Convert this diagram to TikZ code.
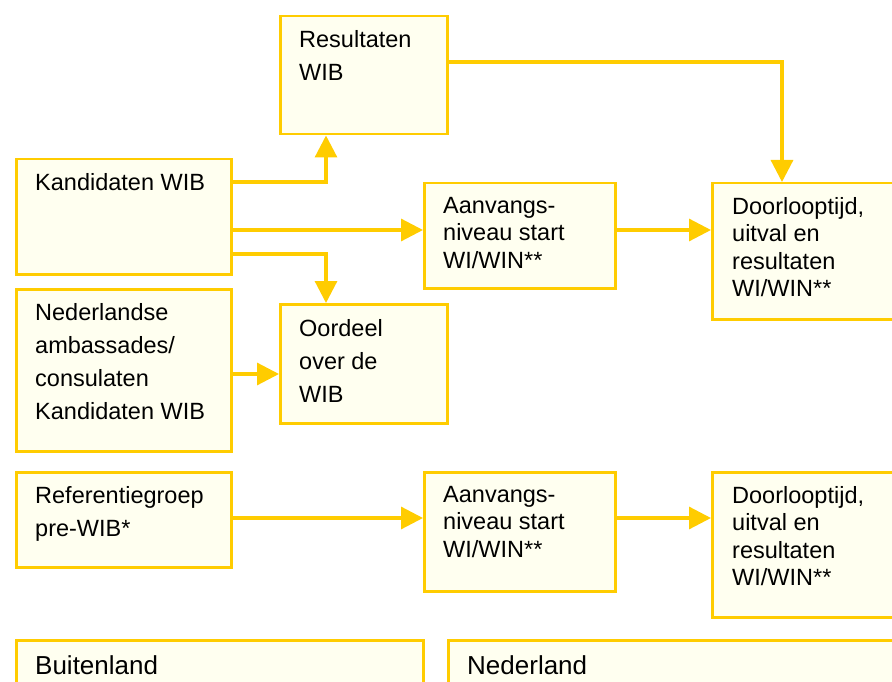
\documentclass[tikz,border=0pt]{standalone}
\usepackage{fontspec}
\setmainfont{Liberation Sans}
\usetikzlibrary{arrows.meta}
\definecolor{ygold}{RGB}{255,204,0}
\definecolor{ycream}{RGB}{255,255,240}
\tikzset{
  box/.style={draw=ygold, fill=ycream, line width=2.5pt, inner sep=0pt, anchor=north west},
  txt/.style={anchor=north west, inner sep=0pt, align=left, text=black, font=\fontsize{23.5}{33}\selectfont},
  tighttxt/.style={txt, font=\fontsize{23.5}{27.5}\selectfont},
  bigtxt/.style={txt, font=\fontsize{26}{32}\selectfont},
  arr/.style={draw=ygold, line width=3.2pt, -{Triangle[length=22pt,width=22pt]}},
}
\begin{document}
\begin{tikzpicture}[x=1pt,y=-1pt]
\useasboundingbox (0,0) rectangle (892,682);
\clip (0,0) rectangle (892,682);
% boxes
\node[box, minimum width=167pt, minimum height=118pt] (res) at (279,15) {};
\node[box, minimum width=215pt, minimum height=115pt] (kand) at (15,158) {};
\node[box, minimum width=191pt, minimum height=105pt] (aan1) at (423,182) {};
\node[box, minimum width=209pt, minimum height=136pt] (door1) at (711,182) {};
\node[box, minimum width=215pt, minimum height=162pt] (ned) at (15,288) {};
\node[box, minimum width=167pt, minimum height=119pt] (oor) at (279,303) {};
\node[box, minimum width=215pt, minimum height=95pt] (ref) at (15,471) {};
\node[box, minimum width=191pt, minimum height=119pt] (aan2) at (423,471) {};
\node[box, minimum width=209pt, minimum height=145pt] (door2) at (711,471) {};
\node[box, minimum width=407pt, minimum height=90pt] (buit) at (15,639) {};
\node[box, minimum width=470pt, minimum height=90pt] (nedl) at (447,639) {};
% texts
\node[txt] (tres) at ([shift={(20pt,-15pt)}]res.north west) {Resultaten\\WIB};
\node[txt] (tkand) at ([shift={(20pt,-15pt)}]kand.north west) {Kandidaten WIB};
\node[tighttxt] (taan1) at ([shift={(20pt,-15pt)}]aan1.north west) {Aanvangs-\\niveau start\\WI/WIN**};
\node[tighttxt] (tdoor1) at ([shift={(21pt,-15pt)}]door1.north west) {Doorlooptijd,\\uitval en\\resultaten\\WI/WIN**};
\node[txt] (tned) at ([shift={(20pt,-15pt)}]ned.north west) {Nederlandse\\ambassades/\\consulaten\\Kandidaten WIB};
\node[txt] (toor) at ([shift={(20pt,-16pt)}]oor.north west) {Oordeel\\over de\\WIB};
\node[txt] (tref) at ([shift={(20pt,-15pt)}]ref.north west) {Referentiegroep\\pre-WIB*};
\node[tighttxt] (taan2) at ([shift={(20pt,-15pt)}]aan2.north west) {Aanvangs-\\niveau start\\WI/WIN**};
\node[tighttxt] (tdoor2) at ([shift={(21pt,-15pt)}]door2.north west) {Doorlooptijd,\\uitval en\\resultaten\\WI/WIN**};
\node[bigtxt] (tbuit) at ([shift={(20pt,-16pt)}]buit.north west) {Buitenland};
\node[bigtxt] (tnedl) at ([shift={(20pt,-16pt)}]nedl.north west) {Nederland};
% connectors
\draw[arr] ([yshift=-24pt]kand.north east) -| ([xshift=47pt]res.south west);
\draw[arr] ([yshift=-72pt]kand.north east) -- ([yshift=-72pt]kand.north east -| aan1.west);
\draw[arr] ([yshift=-96pt]kand.north east) -| ([xshift=47pt]oor.north west);
\draw[arr] ([yshift=-86pt]ned.north east) -- ([yshift=-86pt]ned.north east -| oor.west);
\draw[arr] ([yshift=-48pt]aan1.north east) -- ([yshift=-48pt]aan1.north east -| door1.west);
\draw[arr] ([yshift=-47pt]res.north east) -| ([xshift=71pt]door1.north west);
\draw[arr] ([yshift=-47pt]ref.north east) -- ([yshift=-47pt]ref.north east -| aan2.west);
\draw[arr] ([yshift=-47pt]aan2.north east) -- ([yshift=-47pt]aan2.north east -| door2.west);
\end{tikzpicture}
\end{document}
